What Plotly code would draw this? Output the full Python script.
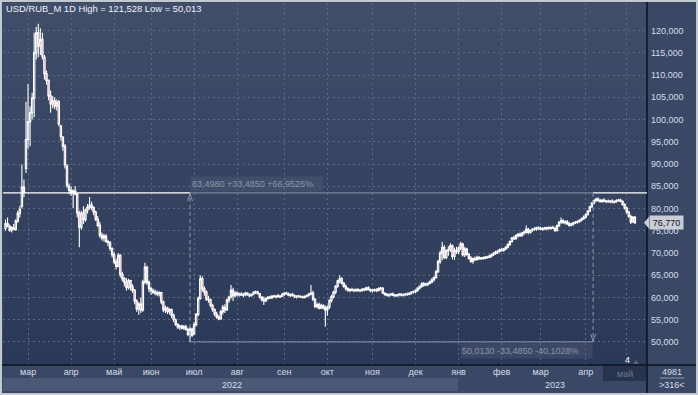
import plotly.graph_objects as go

# ---------------- data ----------------
month_labels = ["мар", "апр", "май", "июн", "июл", "авг", "сен", "окт", "ноя", "дек",
                "янв", "фев", "мар", "апр", "май"]
# trading days per month: Feb-2022 (partial) ... May-2023 (partial)
month_days = [11, 21, 21, 18, 21, 21, 23, 21, 22, 21, 21, 21, 19, 22, 20, 5]
year_labels = ["2022", "2023"]
y_tick_vals = [50, 55, 60, 65, 70, 75, 80, 85, 90, 95, 100, 105, 110, 115, 120]
y_tick_text = ["50,000", "55,000", "60,000", "65,000", "70,000", "75,000", "80,000", "85,000",
               "90,000", "95,000", "100,000", "105,000", "110,000", "115,000", "120,000"]

opens = [
    75.5, 76.6, 76.0, 75.1, 75.7, 75.3, 77.2, 78.9, 80.5, 84.8, 89.0,
    95.5, 99.5, 101.5, 104.8, 115, 119.5, 116.5, 118, 114, 110.3, 108.8, 105.3, 103.5, 104.2, 103, 104, 98.5, 96, 94, 89.5, 85,
    84.1, 83.5, 83.9, 83.2, 79, 75.8, 79, 77.5, 79.6, 80.3, 80.8, 80.2, 79.2, 77.6, 76.2, 74, 73.4, 73.8, 72.6, 72.3, 71,
    69.6, 68, 67, 69.5, 65.2, 64.2, 63.4, 62.2, 63.8, 62.4, 61.6, 59.2, 57.4, 58.5, 57.2, 63.5, 66.8, 63.4,
    62, 61.5, 61.2, 61, 60.8, 61.1, 59, 57.2, 57.6, 56.8, 57.3, 56, 55, 54, 53.4, 53.6, 53.1, 53.4, 52.8, 51.7, 52.9,
    51.8, 53.9, 56.2, 59.8, 64.2, 62, 61.2, 59.6, 59.5, 58.2, 57.3, 56.3, 55.6, 55.2, 56.8, 57.8, 57.2, 59.4, 60.1, 61.6, 60.4,
    61, 60.6, 60.8, 60.5, 60.7, 61, 60.6, 60.4, 60.8, 61.2, 61.3, 60.9, 60.1, 59.5, 59.2, 59.8, 60.1, 59.9, 60.3, 60.2, 60.4, 60.1, 60.3,
    60.7, 61, 60.8, 60.5, 60.7, 60.4, 60.1, 60.3, 60.2, 60.1, 60, 60.3, 60.5, 60.8, 61, 59.6, 58, 58.4, 57.6, 58.2, 57.7,
    57.2, 57.8, 59.3, 60.2, 61.2, 62.5, 63.7, 64.2, 63.2, 62.5, 62, 61.6, 61.8, 61.6, 61.5, 61.8, 61.5, 61.6, 61.9, 61.7, 62.2, 61.8,
    61.5, 61.6, 61.8, 61.5, 62, 62.1, 61, 60.7, 60.5, 60.6, 60.8, 60.5, 60.4, 60.6, 60.7, 60.5, 60.6, 60.8, 60.7, 61, 61.2,
    61.3, 61.6, 62.1, 62.5, 63.1, 62.8, 63, 63.2, 63.5, 64, 64.5, 65.8, 68.1, 70, 71.2, 69, 70.5, 70.8, 71.6, 69.2, 70.6,
    70.3, 71.1, 72, 69.6, 70.9, 69.7, 68.8, 68.1, 68.7, 68.5, 69, 68.7, 68.9, 68.8, 69.1, 69, 69.3, 69.6, 69.9, 70.2, 70.4,
    70.7, 70.6, 70.9, 71.3, 71.9, 72.6, 73.4, 73.2, 73.9, 74.2, 73.9, 74.5, 74.7, 75.3, 74.6, 75.1, 75.3, 75.4, 75.7,
    75.5, 75.3, 75.6, 75.4, 75.7, 75.5, 75.8, 75.6, 75, 76.1, 76.9, 77.3, 76.8, 77, 76.6, 76.2, 76.5, 76.8, 76.9, 77.1, 77.4, 77.7,
    78, 78.6, 79.4, 80.4, 81.2, 81.8, 82.1, 81.8, 81.6, 81.9, 81.6, 81.7, 81.5, 81.7, 81.4, 81.6, 81.8, 81.9, 81.6, 80.9,
    80.1, 79.2, 78.2, 77, 78,
]
highs = [
    77.5, 78.0, 76.4, 76.0, 76.5, 77.6, 79.5, 80.6, 89.9, 86.5, 104,
    108, 103, 106, 119.5, 120.8, 121.528, 120.5, 119.5, 114.5, 111, 109, 106.5, 105.2, 105, 104.5, 104.4, 98.8, 96.3, 94.5, 90, 85.6,
    85, 84.3, 85, 83.5, 79.5, 79.5, 80.5, 80, 81, 82.6, 81.5, 80.5, 79.5, 78.3, 77, 74.6, 74.3, 74.2, 73, 72.7, 71.3,
    70.2, 68.7, 70, 69.8, 65.8, 64.6, 64.4, 64.2, 64, 63, 61.9, 59.6, 59, 60, 64, 67.8, 67.2, 63.8,
    62.4, 62, 61.8, 61.6, 61.4, 61.3, 59.3, 58.2, 57.9, 57.6, 57.5, 56.4, 55.3, 54.2, 53.9, 53.9, 53.8, 53.9, 53.2, 53.4, 53.2,
    54.5, 56.5, 60.2, 65, 64.8, 62.5, 61.6, 60.4, 59.8, 58.6, 57.5, 56.8, 56, 57.2, 58.3, 58.5, 59.8, 60.4, 62.8, 62.2, 61.4,
    61.4, 61.1, 61.2, 61, 61.3, 61.2, 60.9, 60.9, 61.4, 61.6, 61.5, 61, 60.3, 60.2, 60, 60.3, 60.4, 60.5, 60.6, 60.5, 60.8, 60.5, 61,
    61.2, 61.3, 61.1, 60.9, 61, 60.7, 60.5, 60.6, 60.5, 60.4, 60.4, 60.7, 61, 62.8, 61.5, 59.9, 58.8, 58.9, 58.6, 58.5, 58.2,
    58.2, 59.6, 60.6, 61.5, 62.8, 64, 65, 64.6, 63.5, 62.9, 62.3, 62.1, 62.2, 62, 62, 62.1, 61.9, 62.1, 62.2, 62.4, 62.5, 62,
    61.9, 62, 62.1, 62.3, 62.4, 62.3, 61.2, 61, 60.9, 61, 61.1, 60.8, 60.8, 61, 61, 60.9, 61, 61.1, 61.2, 61.4, 61.6,
    61.8, 62.3, 62.7, 63.4, 63.5, 63.3, 63.4, 63.8, 64.4, 64.8, 66.2, 68.5, 70.5, 72.5, 71.8, 70.8, 71.5, 72.2, 71.9, 71.2, 71.4,
    71.5, 72.5, 72.3, 71.4, 71.2, 70, 69.3, 69, 69.2, 69.4, 69.3, 69.1, 69.2, 69.3, 69.4, 69.6, 69.9, 70.2, 70.5, 70.7, 71,
    71.2, 71.1, 71.6, 72.2, 72.8, 73.6, 73.9, 74.2, 74.5, 74.6, 74.8, 75, 76.2, 75.6, 75.3, 75.6, 75.8, 75.9, 76,
    75.9, 75.7, 75.9, 75.9, 76, 75.9, 76.1, 75.8, 76.4, 77.2, 78, 77.6, 77.3, 77.4, 76.9, 76.8, 77, 77.2, 77.3, 77.6, 78, 78.4,
    78.9, 79.6, 80.6, 81.4, 82, 82.4, 82.5, 82.2, 82.1, 82.3, 81.9, 82, 81.9, 82.1, 81.8, 82.1, 82.2, 82.2, 81.8, 81.2,
    80.4, 79.5, 78.6, 78.3, 78.3,
]
lows = [
    75.0, 75.8, 74.8, 74.6, 75.2, 75.0, 76.8, 78.0, 80.0, 82.5, 88.0,
    93.5, 94, 100, 100.5, 113.5, 114, 114.5, 113.5, 109, 107.8, 104.3, 101.5, 102.5, 102.3, 102, 98.5, 95.3, 93, 89, 84.6, 83.2,
    82.8, 80.1, 83, 78, 71.3, 75.2, 76.5, 77, 78.9, 79.8, 79.6, 78.5, 77.2, 75.8, 73.4, 72.8, 72.6, 72.3, 71.5, 70.5, 69,
    67.5, 66.3, 66.8, 64.5, 63.6, 62.5, 61.5, 61.8, 61.6, 61, 58.5, 56.8, 56.1, 56.5, 56.8, 63, 62.8, 61.2,
    60.6, 60.8, 60.5, 60.3, 60.2, 58.5, 56.7, 56.5, 56.3, 56.2, 55.4, 54.5, 53.6, 52.9, 52.7, 52.8, 52.7, 52.5, 51.3, 50.013, 51.1,
    51.5, 53.5, 55.8, 59.5, 61.3, 60.4, 59.2, 58.8, 57.8, 56.8, 55.8, 55.2, 54.9, 55, 56.2, 56.5, 57, 58.8, 59.7, 59.2, 60,
    60.2, 60.2, 60.4, 60.1, 60.3, 60.4, 60.1, 60.2, 60.5, 60.8, 60.6, 59.8, 59.1, 58.3, 59, 59.5, 59.6, 59.7, 60, 59.8, 60, 59.9, 60.1,
    60.4, 60.6, 60.3, 60.1, 60.2, 59.9, 59.8, 60, 59.9, 59.7, 59.8, 60, 60.2, 60.5, 59.2, 57.6, 57.5, 57.3, 57.4, 57.3, 53.4,
    55.9, 57.4, 58.9, 59.8, 60.8, 62.2, 63.2, 62.9, 62.2, 61.6, 61.3, 61.2, 61.4, 61.2, 61.3, 61.3, 61.2, 61.3, 61.4, 61.5, 61.6, 61.2,
    61.1, 61.3, 61.2, 61.4, 61.6, 60.8, 60.4, 60.2, 60.1, 60.3, 60.3, 60.1, 60.1, 60.3, 60.2, 60.2, 60.3, 60.4, 60.5, 60.7, 60.9,
    61, 61.3, 61.8, 62.2, 62.4, 62.5, 62.6, 62.9, 63.2, 63.6, 64.2, 65.5, 67.6, 68.4, 68.6, 68.6, 69.4, 70.2, 68.6, 68.4, 69.8,
    69.7, 70.6, 69.2, 69.1, 69.4, 68.5, 67.8, 67.6, 68.2, 68.3, 68.4, 68.4, 68.5, 68.6, 68.7, 68.8, 69, 69.3, 69.6, 69.8, 70.1,
    70.3, 70.3, 70.7, 71, 71.6, 72.3, 72.9, 73, 73.5, 73.6, 73.7, 74.1, 74.4, 74.2, 74.4, 74.8, 75, 75, 75.2,
    75.1, 75, 75.2, 75.1, 75.3, 75.2, 75.4, 74.8, 74.9, 75.9, 76.6, 76.6, 76.4, 76.3, 75.9, 76, 76.2, 76.5, 76.6, 76.8, 77.1, 77.4,
    77.8, 78.4, 79.2, 80.1, 80.9, 81.4, 81.5, 81.3, 81.3, 81.4, 81.2, 81.3, 81.2, 81.2, 81.1, 81.3, 81.5, 81.4, 80.6, 79.8,
    78.8, 77.9, 76.5, 76.8, 76.6,
]
closes = [
    76.6, 76.0, 75.1, 75.7, 75.3, 77.2, 78.9, 79.8, 84.8, 83.6, 95.5,
    99.5, 101.5, 104.8, 115, 119.5, 116.5, 118, 114.2, 110.3, 108.8, 105.3, 103.5, 104.2, 103, 103.8, 99, 96.2, 94, 89.8, 85.2, 84.1,
    83.5, 83.9, 83.2, 79, 75.8, 79, 77.5, 79.6, 80.3, 80.8, 80.2, 79.2, 77.6, 76.2, 74, 73.4, 73.8, 72.6, 72.3, 71, 69.6,
    68, 67, 69.5, 65.2, 64.2, 63.4, 62.2, 63.8, 62.4, 61.6, 59.2, 57.4, 58.5, 57.2, 63.5, 66.8, 63.4, 62,
    61.5, 61.2, 61, 60.8, 61.1, 59, 57.2, 57.6, 56.8, 57.3, 56, 55, 54, 53.4, 53.6, 53.1, 53.4, 52.8, 51.7, 52.9, 51.5,
    53.9, 56.2, 59.8, 64.2, 62, 61.2, 59.6, 59.5, 58.2, 57.3, 56.3, 55.6, 55.2, 56.8, 57.8, 57.2, 59.4, 60.1, 61.6, 60.4, 61,
    60.6, 60.8, 60.5, 60.7, 61, 60.6, 60.4, 60.8, 61.2, 61.3, 60.9, 60.1, 59.5, 59.2, 59.8, 60.1, 59.9, 60.3, 60.2, 60.4, 60.1, 60.3, 60.7,
    61, 60.8, 60.5, 60.7, 60.4, 60.1, 60.3, 60.2, 60.1, 60, 60.3, 60.5, 60.8, 61, 59.6, 58, 58.4, 57.6, 58.2, 57.7, 57.2,
    57.8, 59.3, 60.2, 61.2, 62.5, 63.7, 64.2, 63.2, 62.5, 62, 61.6, 61.8, 61.6, 61.5, 61.8, 61.5, 61.6, 61.9, 61.7, 62.2, 61.8, 61.5,
    61.6, 61.8, 61.5, 62, 62.1, 61, 60.7, 60.5, 60.6, 60.8, 60.5, 60.4, 60.6, 60.7, 60.5, 60.6, 60.8, 60.7, 61, 61.2, 61.3,
    61.6, 62.1, 62.5, 63.1, 62.8, 63, 63.2, 63.5, 64, 64.5, 65.8, 68.1, 70, 71.2, 69, 70.5, 70.8, 71.6, 69.2, 70.6, 70.3,
    71.1, 72, 69.6, 70.9, 69.7, 68.8, 68.1, 68.7, 68.5, 69, 68.7, 68.9, 68.8, 69.1, 69, 69.3, 69.6, 69.9, 70.2, 70.4, 70.7,
    70.6, 70.9, 71.3, 71.9, 72.6, 73.4, 73.2, 73.9, 74.2, 73.9, 74.5, 74.7, 75.3, 74.6, 75.1, 75.3, 75.4, 75.7, 75.5,
    75.3, 75.6, 75.4, 75.7, 75.5, 75.8, 75.6, 75, 76.1, 76.9, 77.3, 76.8, 77, 76.6, 76.2, 76.5, 76.8, 76.9, 77.1, 77.4, 77.7, 78,
    78.6, 79.4, 80.4, 81.2, 81.8, 82.1, 81.8, 81.6, 81.9, 81.6, 81.7, 81.5, 81.7, 81.4, 81.6, 81.8, 81.9, 81.6, 80.9, 80.1,
    79.2, 78.2, 77, 78, 76.77,
]
last_price = 76.77
measure_low, measure_high = 50.013, 83.498
measure_x0, measure_x1 = 90, 286.6   # candle index of the two anchor points
upper_label = "83,4980 +33,4850 +66,9526%"
lower_label = "50,0130 -33,4850 -40,1028%"
title_text = "USD/RUB_M 1D High = 121,528 Low = 50,013"
corner_top, corner_bottom, bar_count = "4981", ">316<", "4"

# ---------------- layout geometry ----------------
W, H = 698, 395
ML, MR, MT, MB = 3, 51, 3, 30
PW, PH = W - ML - MR, H - MT - MB
XR = [-1.22, 312.9]
YR = [44.83, 126.18]


def px(x):
    return (x - ML) / PW


def py(y):
    return (H - MB - y) / PH


n = len(closes)
xs = list(range(n))
starts = []
acc = 0
for d in month_days[:-1]:
    acc += d
    starts.append(acc)
tick_text = month_labels[:-1] + [""]

FONT = "Liberation Sans, Arial, sans-serif"
GRID = "#5b6986"
GRAY = "#8c96a9"

fig = go.Figure()
fig.add_trace(go.Candlestick(
    x=xs, open=opens, high=highs, low=lows, close=closes,
    increasing=dict(line=dict(color="#ffffff", width=1.1), fillcolor="rgba(0,0,0,0)"),
    decreasing=dict(line=dict(color="#ffffff", width=1.1), fillcolor="#d8456a"),
    whiskerwidth=0, showlegend=False, hoverinfo="skip",
))

shapes = []
# panel background (axis areas)
shapes.append(dict(type="rect", xref="paper", yref="paper", layer="below",
                   x0=px(2), x1=px(696), y0=py(393), y1=py(2),
                   fillcolor="#3a4866", line=dict(width=0)))
# plot area vertical gradient
top_c, bot_c = (64, 78, 106), (43, 57, 88)
NB = 36
for k in range(NB):
    t = (k + 0.5) / NB
    col = tuple(round(top_c[j] + (bot_c[j] - top_c[j]) * t) for j in range(3))
    shapes.append(dict(type="rect", xref="paper", yref="paper", layer="below",
                       x0=0, x1=1, y0=1 - (k + 1) / NB, y1=1 - k / NB,
                       fillcolor="rgb(%d,%d,%d)" % col, line=dict(width=0)))
# 2022 year band and current-month box
shapes.append(dict(type="rect", xref="paper", yref="paper", layer="below",
                   x0=px(3), x1=px(458), y0=py(391), y1=py(378),
                   fillcolor="#4b5977", line=dict(width=0)))
shapes.append(dict(type="rect", xref="paper", yref="paper", layer="below",
                   x0=px(603), x1=px(646), y0=py(381), y1=py(366),
                   fillcolor="#28344e", line=dict(width=0)))
# separators
shapes.append(dict(type="line", xref="paper", yref="paper", layer="above",
                   x0=px(647), x1=px(647), y0=py(393), y1=py(2),
                   line=dict(color="#0c111d", width=1.5)))
shapes.append(dict(type="line", xref="paper", yref="paper", layer="above",
                   x0=px(2), x1=px(696), y0=py(365), y1=py(365),
                   line=dict(color="#0c111d", width=1.5)))
shapes.append(dict(type="line", xref="paper", yref="paper", layer="above",
                   x0=px(660), x1=px(684), y0=py(378), y1=py(378),
                   line=dict(color=GRAY, width=1)))

# measurement tool lines
shapes += [
    dict(type="line", xref="x", yref="y", x0=XR[0], x1=measure_x0, y0=measure_high, y1=measure_high,
         line=dict(color="#ffffff", width=1.3)),
    dict(type="line", xref="x", yref="y", x0=measure_x0, x1=measure_x1, y0=measure_high, y1=measure_high,
         line=dict(color=GRAY, width=1)),
    dict(type="line", xref="x", yref="y", x0=measure_x1, x1=XR[1], y0=measure_high, y1=measure_high,
         line=dict(color="#ffffff", width=1.3)),
    dict(type="line", xref="x", yref="y", x0=measure_x0, x1=measure_x1, y0=measure_low, y1=measure_low,
         line=dict(color=GRAY, width=1)),
    dict(type="line", xref="x", yref="y", x0=measure_x0, x1=measure_x0, y0=measure_low, y1=measure_high,
         line=dict(color=GRAY, width=1, dash="4px,3px")),
    dict(type="line", xref="x", yref="y", x0=measure_x1, x1=measure_x1, y0=measure_high, y1=measure_low,
         line=dict(color=GRAY, width=1, dash="4px,3px")),
    # arrow heads
    dict(type="path", xref="x", yref="y", xsizemode="pixel", ysizemode="pixel",
         xanchor=measure_x0, yanchor=measure_high,
         path="M -2.5,-8 L 0,-1 L 2.5,-8", line=dict(color=GRAY, width=1)),
    dict(type="path", xref="x", yref="y", xsizemode="pixel", ysizemode="pixel",
         xanchor=measure_x1, yanchor=measure_low,
         path="M -2.5,8 L 0,1 L 2.5,8", line=dict(color=GRAY, width=1)),
    # price marker arrow
    dict(type="path", xref="paper", yref="y", xsizemode="pixel", ysizemode="pixel",
         xanchor=px(649), yanchor=last_price,
         path="M 0,-6 L -5,0 L 0,6 Z", fillcolor="#c9ced6", line=dict(width=0)),
    # small marker near bar count
    dict(type="path", xref="paper", yref="paper", xsizemode="pixel", ysizemode="pixel",
         xanchor=px(636), yanchor=py(362),
         path="M -3,-2 L 3,-2 L 0,2 Z", fillcolor="#56627c", line=dict(width=0)),
]

annotations = [
    dict(text=title_text, xref="paper", yref="paper", x=px(4), y=py(9), xanchor="left", yanchor="middle",
         showarrow=False, font=dict(family=FONT, size=9.4, color="#eef1f6")),
    dict(text=upper_label, xref="x", yref="y", x=measure_x0, y=measure_high, xanchor="left", yanchor="bottom",
         showarrow=False, width=130, height=12, align="left", bgcolor="rgba(80,92,118,0.45)",
         font=dict(family=FONT, size=9, color=GRAY), yshift=1),
    dict(text=lower_label, xref="x", yref="y", x=measure_x1, y=measure_low, xanchor="right", yanchor="top",
         showarrow=False, width=129, height=12, align="left", bgcolor="rgba(80,92,118,0.45)",
         font=dict(family=FONT, size=9, color=GRAY), yshift=-1),
    dict(text="76,770", xref="paper", yref="y", x=px(649), y=last_price, xanchor="left", yanchor="middle",
         showarrow=False, bgcolor="#c9ced6", width=31, height=11, align="center",
         font=dict(family=FONT, size=9, color="#10131a")),
    dict(text=year_labels[0], xref="paper", yref="paper", x=px(232), y=py(384.5), xanchor="center",
         yanchor="middle", showarrow=False, font=dict(family=FONT, size=9, color="#d8dde6")),
    dict(text=year_labels[1], xref="paper", yref="paper", x=px(555), y=py(384.5), xanchor="center",
         yanchor="middle", showarrow=False, font=dict(family=FONT, size=9, color="#d8dde6")),
    dict(text=month_labels[-1], xref="paper", yref="paper", x=px(625), y=py(373.5), xanchor="center",
         yanchor="middle", showarrow=False, font=dict(family=FONT, size=9, color="#6c768c")),
    dict(text=bar_count, xref="paper", yref="paper", x=px(627), y=py(360), xanchor="center",
         yanchor="middle", showarrow=False, font=dict(family=FONT, size=9, color="#ffffff")),
    dict(text=corner_top, xref="paper", yref="paper", x=px(672), y=py(371.5), xanchor="center",
         yanchor="middle", showarrow=False, font=dict(family=FONT, size=9, color="#d8dde6")),
    dict(text=corner_bottom, xref="paper", yref="paper", x=px(672), y=py(385), xanchor="center",
         yanchor="middle", showarrow=False, font=dict(family=FONT, size=9, color="#d8dde6")),
]

fig.update_layout(
    template="none",
    width=W, height=H,
    margin=dict(l=ML, r=MR, t=MT, b=MB, pad=0),
    paper_bgcolor="#c3c9d1",
    plot_bgcolor="rgba(0,0,0,0)",
    showlegend=False,
    boxgap=0.06,
    shapes=shapes,
    annotations=annotations,
    font=dict(family=FONT, size=9, color="#d8dde6"),
    xaxis=dict(range=XR, tickmode="array", tickvals=starts, ticktext=tick_text,
               showgrid=True, gridcolor=GRID, gridwidth=1, griddash="2px,3px",
               zeroline=False, showline=False, ticks="", automargin=False,
               rangeslider=dict(visible=False), fixedrange=True,
               tickfont=dict(family=FONT, size=9, color="#d8dde6")),
    yaxis=dict(range=YR, side="right", tickmode="array", tickvals=y_tick_vals, ticktext=y_tick_text,
               showgrid=True, gridcolor=GRID, gridwidth=1, griddash="2px,3px",
               zeroline=False, showline=False, ticks="", automargin=False, fixedrange=True,
               ticklabelstandoff=3,
               tickfont=dict(family=FONT, size=9, color="#d8dde6")),
)

fig.write_html("out.html", config={"displayModeBar": False},
               post_script="document.body.style.margin='0';document.body.style.overflow='hidden';")
